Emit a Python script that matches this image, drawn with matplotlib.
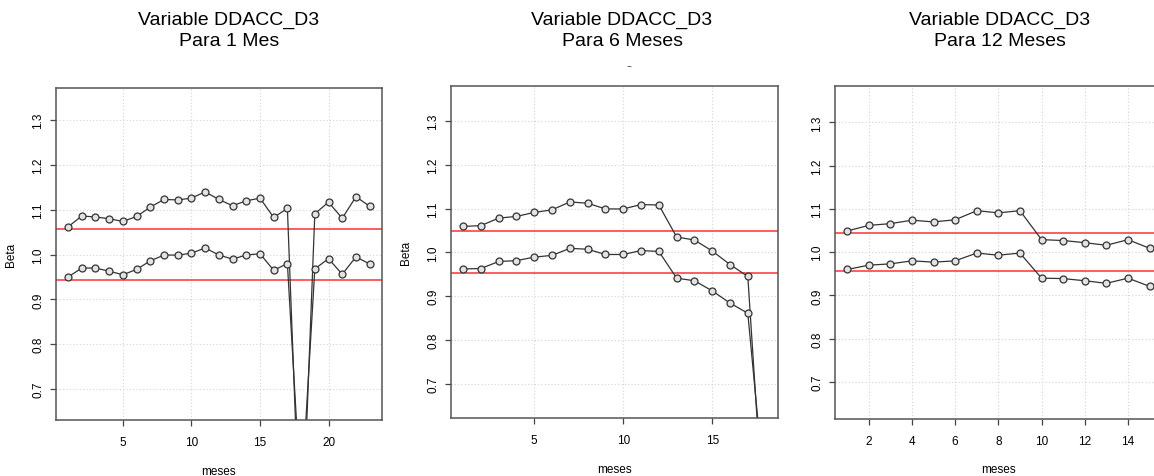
import numpy as np
import matplotlib.pyplot as plt
from matplotlib import font_manager

# --- datos: bandas de beta por horizonte ---
meses_1 = list(range(1, 24))
sup_1 = [1.062, 1.086, 1.084, 1.080, 1.074, 1.085, 1.106, 1.123, 1.122, 1.126,
         1.140, 1.123, 1.109, 1.120, 1.126, 1.083, 1.103, 0.30, 1.091, 1.117,
         1.081, 1.129, 1.108]
inf_1 = [0.950, 0.970, 0.970, 0.963, 0.955, 0.967, 0.986, 0.999, 0.999, 1.003,
         1.015, 0.999, 0.990, 0.999, 1.002, 0.965, 0.980, 0.45, 0.968, 0.991,
         0.956, 0.995, 0.979]
lim_1 = [1.057, 0.943]

meses_6 = list(range(1, 19))
sup_6 = [1.059, 1.061, 1.078, 1.082, 1.091, 1.097, 1.115, 1.112, 1.099, 1.099,
         1.109, 1.108, 1.035, 1.028, 1.003, 0.972, 0.945, 0.32]
inf_6 = [0.962, 0.963, 0.979, 0.981, 0.989, 0.993, 1.009, 1.007, 0.995, 0.995,
         1.004, 1.002, 0.941, 0.935, 0.912, 0.884, 0.861, 0.43]
lim_6 = [1.048, 0.952]

meses_12 = list(range(1, 16))
sup_12 = [1.049, 1.062, 1.066, 1.074, 1.070, 1.075, 1.096, 1.091, 1.096, 1.029,
          1.027, 1.022, 1.016, 1.029, 1.009]
inf_12 = [0.960, 0.970, 0.973, 0.980, 0.977, 0.980, 0.998, 0.993, 0.998, 0.940,
          0.939, 0.934, 0.928, 0.940, 0.921]
lim_12 = [1.044, 0.956]

titulos = ["Variable DDACC_D3\nPara 1 Mes",
           "Variable DDACC_D3\nPara 6 Meses",
           "Variable DDACC_D3\nPara 12 Meses"]

nombres = {f.name for f in font_manager.fontManager.ttflist}
fam = ['Liberation Sans', 'DejaVu Sans']
fam_tit = (['Liberation Sans Narrow'] if 'Liberation Sans Narrow' in nombres else []) + fam
plt.rcParams['font.family'] = fam

W, H = 1154, 477
fig = plt.figure(figsize=(W / 100, H / 100), dpi=100)

# posiciones en pixeles: izquierda, arriba, derecha, abajo
cajas = [(56, 89.3, 381.7, 421), (451, 87.3, 777.7, 419.3), (835, 86.7, 1161.7, 419.7)]
xlims = [(0.12, 23.88), (0.32, 18.68), (0.44, 15.56)]
ylims = [(0.631, 1.371), (0.621, 1.379), (0.615, 1.385)]
xticks = [[5, 10, 15, 20], [5, 10, 15], list(range(2, 15, 2))]
series = [(meses_1, sup_1, inf_1, lim_1),
          (meses_6, sup_6, inf_6, lim_6),
          (meses_12, sup_12, inf_12, lim_12)]
centros_tit = [229, 622, 1000]

for i, (l, t, r, b) in enumerate(cajas):
    ax = fig.add_axes([l / W, 1 - b / H, (r - l) / W, (b - t) / H])
    x, s, f, lim = series[i]
    yt = np.round(np.arange(0.7, 1.31, 0.1), 1)
    for v in xticks[i]:
        ax.axvline(v, color='#d3d3d3', lw=0.8, ls=(0, (1, 2)), zorder=0)
    for v in yt:
        ax.axhline(v, color='#d3d3d3', lw=0.8, ls=(0, (1, 2)), zorder=0)
    for v in lim:
        ax.axhline(v, color='#ff5050', lw=1.3, zorder=1)
    for serie in (s, f):
        ax.plot(x, serie, color='#333333', lw=0.9, marker='o', ms=5,
                mfc='#e2e2e2', mec='#333333', mew=0.9, zorder=2)
    ax.set_xlim(*xlims[i])
    ax.set_ylim(*ylims[i])
    ax.set_xticks(xticks[i])
    ax.set_yticks(yt)
    ax.set_yticklabels([f"{v:.1f}" for v in yt], rotation=90, va='center')
    ax.tick_params(direction='out', length=4.5, width=0.9, color='#444444',
                   labelsize=8.5, pad=4)
    ax.tick_params(axis='x', pad=7)
    for sp in ax.spines.values():
        sp.set_color('#555555')
        sp.set_linewidth(1.1)
    ax.set_xlabel('meses', fontsize=8.5, labelpad=12)
    if i < 2:
        ax.set_ylabel('Beta', fontsize=8.5, labelpad=11)
    fig.text(centros_tit[i] / W, 1 - 31 / H, titulos[i], ha='center', va='center',
             fontsize=14, family=fam_tit, linespacing=1.3)

fig.text(629 / W, 1 - 66 / H, '-', ha='center', va='center', fontsize=11, color='#666666')

fig.savefig('out.png', dpi=100)
